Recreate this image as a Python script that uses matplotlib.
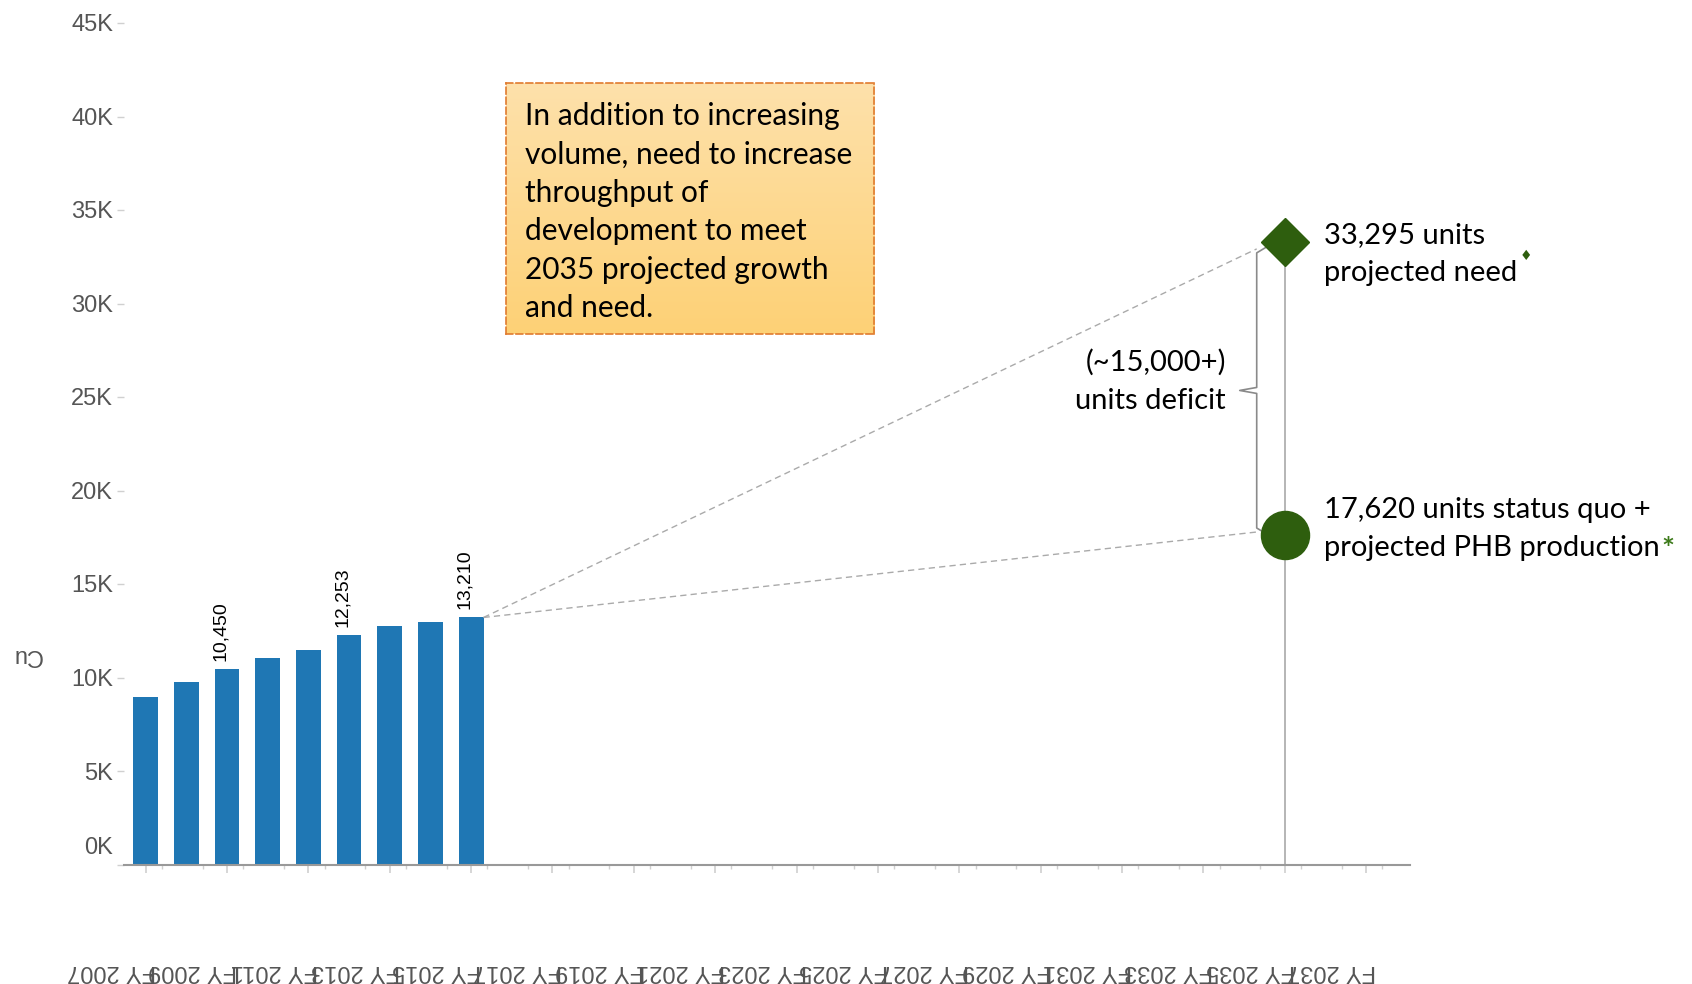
import numpy as np
import matplotlib.pyplot as plt
from matplotlib import transforms
from matplotlib.colors import LinearSegmentedColormap

# historical production by fiscal year
years = [2007, 2008, 2009, 2010, 2011, 2012, 2013, 2014, 2015]
units = [8950, 9750, 10450, 11050, 11480, 12253, 12770, 12990, 13210]
labelled_years = [2009, 2012, 2015]

# 2035 projections
target_year = 2035
need_2035 = 33295
status_quo_2035 = 17620

tick_years = list(range(2007, 2038, 2))
tick_labels = [f"FY {y}" for y in tick_years]
y_ticks = list(range(0, 45001, 5000))
y_tick_labels = [f"{v // 1000}K" for v in y_ticks]

box_lines = ["In addition to increasing",
             "volume, need to increase",
             "throughput of",
             "development to meet",
             "2035 projected growth",
             "and need."]

BAR = "#1f77b4"
GREEN = "#2e5e0e"
GREY = "#555555"
SANS = ["Liberation Sans", "DejaVu Sans"]
BODY = ["Lato", "DejaVu Sans"]
NOTE_SIZE = 21

W, H = 1692, 984
fig = plt.figure(figsize=(W / 100, H / 100), dpi=100)


def fx(px):
    return px / W


def fy(px):
    return 1 - px / H


ax = fig.add_axes([fx(124), fy(864.5), fx(1410) - fx(124), fy(23) - fy(864.5)])
ax.set_xlim(2006.467, 2038.08)
ax.set_ylim(0, 45000)

ax.bar(years, units, width=0.61, color=BAR, zorder=2)
for yr, v in zip(years, units):
    if yr in labelled_years:
        ax.annotate(f"{v:,}", (yr, v), xytext=(-5, 6), textcoords="offset points",
                    rotation=90, ha="center", va="bottom", fontsize=14,
                    family=SANS, color="black")

for side in ["left", "top", "right"]:
    ax.spines[side].set_visible(False)
ax.spines["bottom"].set_color("#999999")
ax.spines["bottom"].set_linewidth(1.5)

# y axis
ax.set_yticks(y_ticks, [""] + y_tick_labels[1:])
ax.tick_params(axis="y", length=5, width=1, color="#d0d0d0", labelsize=17,
               labelcolor=GREY, pad=3)
for lab in ax.get_yticklabels():
    lab.set_family(SANS)
ax.annotate(y_tick_labels[0], xy=(0, 0), xycoords=("axes fraction", "data"),
            xytext=(-8, 12), textcoords="offset points", ha="right", va="center",
            fontsize=17, color=GREY, family=SANS)
fig.text(fx(27), fy(655), "Cu", rotation=180, ha="center", va="center",
         fontsize=17, color=GREY, family=SANS)

# x axis, labels drawn upside down
ax.set_xticks(tick_years, tick_labels, rotation=180, ha="right")
ax.set_xticks([y + 0.4 for y in range(2007, 2038)], minor=True)
ax.tick_params(axis="x", which="major", length=6, width=1.2, color="#d0d0d0",
               labelsize=17, labelcolor=GREY, pad=63)
ax.tick_params(axis="x", which="minor", length=3, width=1, color="#d0d0d0")
shift = transforms.ScaledTranslation(10 / 100, 0, fig.dpi_scale_trans)
for lab in ax.get_xticklabels():
    lab.set_family(SANS)
    lab.set_transform(lab.get_transform() + shift)

# projection markers and connectors
ax.plot([target_year, target_year], [0, need_2035], color="#b0b0b0", lw=1.3,
        zorder=1, clip_on=False)

px_x = 1 / 40.68
px_y = 5000 / 93.5
x_line = target_year - 28 * px_x
x_hook = target_year - 18 * px_x
x_tip = target_year - 45 * px_x
y_top = need_2035 - 7 * px_y
y_bot = status_quo_2035 + 3 * px_y
y_mid = (y_top + y_bot) / 2

ax.plot([x_hook, x_line, x_line, x_tip, x_line, x_line, x_hook],
        [y_top + 2 * px_y, y_top - 4 * px_y, y_mid + 3 * px_y, y_mid,
         y_mid - 3 * px_y, y_bot + 4 * px_y, y_bot - 2 * px_y],
        color="#8a8a8a", lw=1.2, zorder=3, clip_on=False)

last_x = years[-1] + 0.305
for y_end in [y_top, y_bot]:
    ax.plot([last_x, x_line], [units[-1], y_end], color="#aaaaaa", lw=1,
            ls=(0, (4.5, 3)), zorder=2)

ax.plot(target_year, need_2035, marker="D", ms=24.5, color=GREEN, zorder=5,
        clip_on=False)
ax.plot(target_year, status_quo_2035, marker="o", ms=34.6, color=GREEN, zorder=5,
        clip_on=False)

# mark labels
fig.text(fx(1324), fy(243), f"{need_2035:,} units", fontsize=NOTE_SIZE,
         family=BODY, va="baseline", ha="left", color="black")
t_need = fig.text(fx(1324), fy(281), "projected need", fontsize=NOTE_SIZE,
                  family=BODY, va="baseline", ha="left", color="black")
ax.annotate("\u2666", xy=(1, 1), xycoords=t_need, xytext=(2, 3),
            textcoords="offset points", ha="left", va="center", fontsize=10,
            color=GREEN, family=["DejaVu Sans"])

fig.text(fx(1324), fy(518), f"{status_quo_2035:,} units status quo +",
         fontsize=NOTE_SIZE, family=BODY, va="baseline", ha="left", color="black")
t_sq = fig.text(fx(1324), fy(556), "projected PHB production", fontsize=NOTE_SIZE,
                family=BODY, va="baseline", ha="left", color="black")
ax.annotate("*", xy=(1, 1), xycoords=t_sq, xytext=(1, -11),
            textcoords="offset points", ha="left", va="center", fontsize=22,
            fontweight="bold", color="#3c7a1a", family=BODY)

fig.text(fx(1226), fy(371), "(~15,000+)", fontsize=NOTE_SIZE, family=BODY,
         va="baseline", ha="right", color="black")
fig.text(fx(1226), fy(409), "units deficit", fontsize=NOTE_SIZE, family=BODY,
         va="baseline", ha="right", color="black")

# callout box with vertical gradient
box = fig.add_axes([fx(506), fy(334), fx(874) - fx(506), fy(83) - fy(334)])
grad = np.linspace(0, 1, 256).reshape(-1, 1)
cmap = LinearSegmentedColormap.from_list("callout", ["#fee1ab", "#fdd176"])
box.imshow(grad, cmap=cmap, aspect="auto", extent=[0, 1, 0, 1], origin="upper")
box.set_xticks([])
box.set_yticks([])
for sp in box.spines.values():
    sp.set_linestyle((0, (4, 2)))
    sp.set_edgecolor("#e07b2f")
    sp.set_linewidth(1.2)

for i, line in enumerate(box_lines):
    fig.text(fx(525), fy(125 + 38.4 * i), line, fontsize=21.5, family=BODY,
             va="baseline", ha="left", color="black")

fig.savefig("out.png", dpi=100)
